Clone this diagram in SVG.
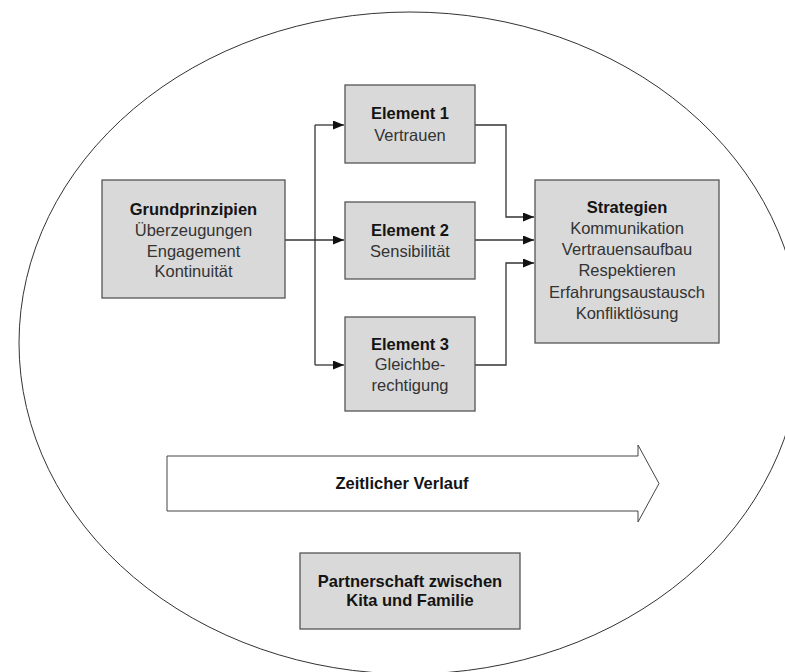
<svg xmlns="http://www.w3.org/2000/svg" width="785" height="672" viewBox="0 0 785 672">
<style>
.box{fill:#d9d9d9;stroke:#555;stroke-width:1.3}
.t{font-family:"Liberation Sans",Arial,Helvetica,sans-serif;font-size:16.5px;text-anchor:middle}
.b{font-weight:bold;fill:#141414}
.r{fill:#333}
.c{fill:none;stroke:#333;stroke-width:1.3}
</style>
<defs>
<marker id="ah" markerUnits="userSpaceOnUse" markerWidth="12" markerHeight="10" refX="11" refY="4.5" orient="auto">
<path d="M0,0 L11,4.5 L0,9 Z" fill="#111"/>
</marker>
</defs>
<rect width="785" height="672" fill="#fff"/>
<ellipse id="outer" cx="410" cy="343" rx="391" ry="331" fill="none" stroke="#333" stroke-width="1"/>
<g id="connectors">
<path class="c" d="M285,240 H344" marker-end="url(#ah)"/>
<path class="c" d="M315,125 V365"/>
<path class="c" d="M315,125 H344" marker-end="url(#ah)"/>
<path class="c" d="M315,365 H344" marker-end="url(#ah)"/>
<path class="c" d="M475,125 H506 V217 H534" marker-end="url(#ah)"/>
<path class="c" d="M475,240 H534" marker-end="url(#ah)"/>
<path class="c" d="M475,365 H506 V263 H534" marker-end="url(#ah)"/>
</g>
<g id="grundprinzipien">
<rect class="box" x="102" y="180" width="183" height="118"/>
<text class="t b" x="193.5" y="215">Grundprinzipien</text>
<text class="t r" x="193.5" y="236">Überzeugungen</text>
<text class="t r" x="193.5" y="256.5">Engagement</text>
<text class="t r" x="193.5" y="277">Kontinuität</text>
</g>
<g id="element1">
<rect class="box" x="345" y="85" width="130" height="78"/>
<text class="t b" x="410" y="119">Element 1</text>
<text class="t r" x="410" y="141">Vertrauen</text>
</g>
<g id="element2">
<rect class="box" x="345" y="202" width="130" height="77"/>
<text class="t b" x="410" y="236">Element 2</text>
<text class="t r" x="410" y="257">Sensibilität</text>
</g>
<g id="element3">
<rect class="box" x="345" y="317" width="130" height="94"/>
<text class="t b" x="410" y="350">Element 3</text>
<text class="t r" x="410" y="370">Gleichbe-</text>
<text class="t r" x="410" y="391">rechtigung</text>
</g>
<g id="strategien">
<rect class="box" x="535" y="180" width="184" height="163"/>
<text class="t b" x="627" y="213">Strategien</text>
<text class="t r" x="627" y="234">Kommunikation</text>
<text class="t r" x="627" y="255">Vertrauensaufbau</text>
<text class="t r" x="627" y="276">Respektieren</text>
<text class="t r" x="627" y="297.5">Erfahrungsaustausch</text>
<text class="t r" x="627" y="319">Konfliktlösung</text>
</g>
<g id="zeitlicher-verlauf">
<path d="M167,456 H638 V445 L659,483.5 L638,522 V511 H167 Z" fill="#fff" stroke="#444" stroke-width="1"/>
<text class="t b" x="402" y="489">Zeitlicher Verlauf</text>
</g>
<g id="partnerschaft">
<rect class="box" x="300" y="553" width="220" height="76"/>
<text class="t b" x="410" y="587">Partnerschaft zwischen</text>
<text class="t b" x="410" y="606">Kita und Familie</text>
</g>
</svg>
